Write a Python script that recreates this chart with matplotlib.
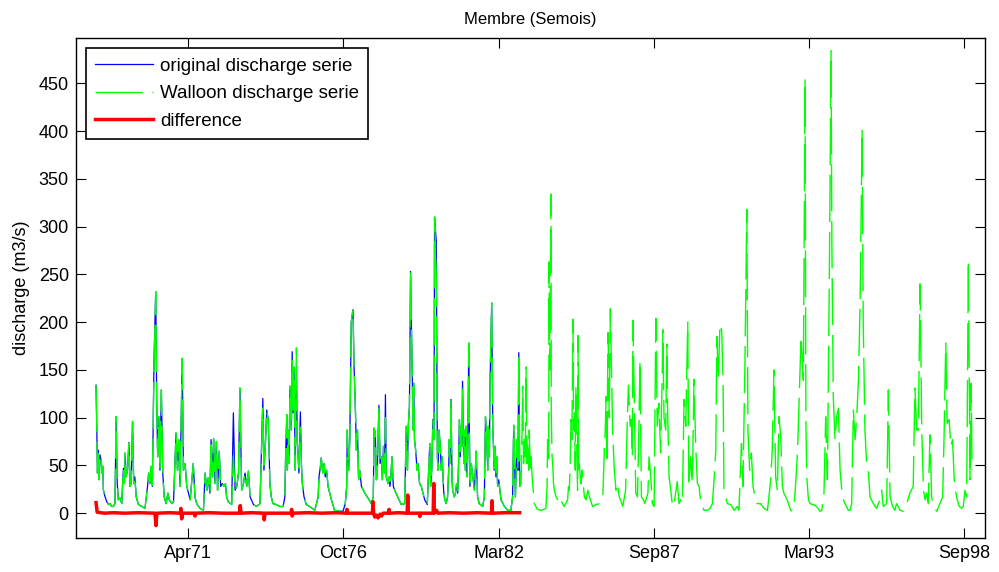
import matplotlib
matplotlib.use('Agg')
import matplotlib.pyplot as plt
import matplotlib.dates as mdates
from datetime import datetime, timedelta

plt.rcParams['font.family'] = ['Liberation Sans', 'DejaVu Sans']
plt.rcParams['lines.scale_dashes'] = False

# discharge (m3/s) as (decimal year, value)
original_pts = [
    (1968.00, 134), (1968.02, 101), (1968.05, 42), (1968.08, 66), (1968.11, 35), (1968.14, 61),
    (1968.18, 55), (1968.21, 42), (1968.24, 49), (1968.26, 24), (1968.32, 17), (1968.38, 12),
    (1968.44, 9), (1968.50, 10), (1968.55, 7), (1968.61, 7), (1968.67, 10), (1968.71, 101),
    (1968.75, 31), (1968.79, 14), (1968.85, 16), (1968.91, 10), (1968.94, 31), (1968.97, 47),
    (1969.00, 31), (1969.03, 63), (1969.06, 38), (1969.11, 45), (1969.16, 74), (1969.20, 28),
    (1969.24, 31), (1969.29, 96), (1969.33, 31), (1969.37, 38), (1969.42, 17), (1969.50, 9),
    (1969.62, 7), (1969.73, 5), (1969.82, 28), (1969.86, 42), (1969.91, 31), (1969.95, 49),
    (1969.99, 28), (1970.05, 160), (1970.11, 232), (1970.15, 105), (1970.18, 59), (1970.22, 101),
    (1970.26, 45), (1970.31, 129), (1970.36, 42), (1970.41, 17), (1970.48, 10), (1970.54, 21),
    (1970.59, 14), (1970.68, 10), (1970.74, 12), (1970.83, 84), (1970.88, 45), (1970.92, 77),
    (1970.97, 28), (1971.05, 162), (1971.09, 45), (1971.15, 52), (1971.21, 28), (1971.27, 21),
    (1971.33, 14), (1971.44, 52), (1971.50, 17), (1971.56, 10), (1971.68, 5), (1971.80, 3),
    (1971.86, 42), (1971.92, 24), (1971.97, 37), (1972.03, 21), (1972.07, 77), (1972.12, 38),
    (1972.16, 78), (1972.21, 31), (1972.26, 75), (1972.30, 24), (1972.36, 65), (1972.41, 28),
    (1972.47, 31), (1972.53, 28), (1972.58, 31), (1972.62, 17), (1972.68, 12), (1972.80, 9),
    (1972.86, 105), (1972.92, 24), (1972.98, 28), (1973.04, 42), (1973.09, 131), (1973.15, 24),
    (1973.21, 30), (1973.27, 42), (1973.33, 28), (1973.39, 44), (1973.45, 17), (1973.57, 9),
    (1973.68, 7), (1973.80, 10), (1973.90, 120), (1973.94, 45), (1973.99, 72), (1974.04, 108),
    (1974.09, 98), (1974.12, 70), (1974.15, 31), (1974.20, 17), (1974.26, 10), (1974.38, 9),
    (1974.50, 7), (1974.62, 7), (1974.68, 17), (1974.71, 63), (1974.75, 103), (1974.77, 45),
    (1974.79, 87), (1974.83, 52), (1974.86, 133), (1974.91, 87), (1974.94, 169), (1974.97, 105),
    (1975.01, 153), (1975.03, 87), (1975.05, 45), (1975.09, 150), (1975.12, 77), (1975.15, 59),
    (1975.18, 42), (1975.23, 106), (1975.27, 49), (1975.30, 31), (1975.36, 17), (1975.44, 9),
    (1975.56, 7), (1975.74, 3), (1975.86, 17), (1975.89, 38), (1975.94, 49), (1975.97, 58),
    (1976.02, 42), (1976.07, 52), (1976.11, 38), (1976.16, 45), (1976.21, 28), (1976.33, 14),
    (1976.44, 3), (1976.62, 2), (1976.74, 2), (1976.82, 10), (1976.87, 28), (1976.89, 87),
    (1976.94, 45), (1976.98, 77), (1977.03, 200), (1977.09, 213), (1977.13, 153), (1977.18, 105),
    (1977.21, 66), (1977.25, 87), (1977.29, 35), (1977.33, 45), (1977.39, 28), (1977.51, 21),
    (1977.62, 16), (1977.74, 10), (1977.81, 17), (1977.84, 89), (1977.88, 84), (1977.92, 35),
    (1977.95, 42), (1978.01, 113), (1978.05, 52), (1978.10, 59), (1978.13, 35), (1978.17, 70),
    (1978.21, 42), (1978.24, 124), (1978.27, 38), (1978.33, 31), (1978.37, 38), (1978.40, 28),
    (1978.43, 37), (1978.47, 59), (1978.52, 28), (1978.57, 24), (1978.69, 16), (1978.80, 9),
    (1978.92, 10), (1978.98, 91), (1979.02, 45), (1979.05, 91), (1979.09, 112), (1979.13, 253),
    (1979.18, 157), (1979.22, 87), (1979.24, 136), (1979.27, 77), (1979.31, 66), (1979.36, 45),
    (1979.39, 52), (1979.45, 31), (1979.51, 28), (1979.63, 14), (1979.72, 9), (1979.81, 73),
    (1979.84, 28), (1979.88, 45), (1979.92, 98), (1979.96, 77), (1979.98, 310), (1980.04, 285),
    (1980.08, 59), (1980.10, 45), (1980.14, 87), (1980.18, 70), (1980.22, 45), (1980.25, 59),
    (1980.30, 24), (1980.34, 14), (1980.39, 10), (1980.44, 17), (1980.48, 45), (1980.50, 77),
    (1980.54, 52), (1980.56, 119), (1980.60, 35), (1980.62, 24), (1980.68, 17), (1980.72, 21),
    (1980.76, 31), (1980.80, 21), (1980.83, 52), (1980.86, 98), (1980.89, 59), (1980.92, 91),
    (1980.95, 70), (1980.97, 138), (1981.01, 52), (1981.03, 87), (1981.07, 45), (1981.09, 91),
    (1981.13, 38), (1981.15, 59), (1981.19, 178), (1981.21, 87), (1981.23, 28), (1981.28, 52),
    (1981.33, 38), (1981.39, 24), (1981.45, 65), (1981.50, 17), (1981.56, 10), (1981.68, 7),
    (1981.74, 17), (1981.78, 101), (1981.82, 80), (1981.86, 45), (1981.88, 91), (1981.92, 59),
    (1981.94, 135), (1982.00, 220), (1982.04, 87), (1982.06, 73), (1982.09, 45), (1982.12, 70),
    (1982.15, 38), (1982.18, 59), (1982.21, 28), (1982.25, 35), (1982.33, 14), (1982.45, 7),
    (1982.57, 3), (1982.68, 3), (1982.74, 17), (1982.78, 92), (1982.84, 17), (1982.90, 77),
    (1982.93, 45), (1982.96, 168), (1982.99, 28),
]

walloon_pts = [
    (1968.00, 134), (1968.02, 101), (1968.05, 42), (1968.08, 66), (1968.11, 35), (1968.14, 59),
    (1968.18, 61), (1968.21, 42), (1968.24, 49), (1968.26, 24), (1968.32, 17), (1968.38, 12),
    (1968.44, 9), (1968.50, 10), (1968.55, 7), (1968.61, 7), (1968.67, 10), (1968.71, 101),
    (1968.75, 31), (1968.79, 14), (1968.85, 16), (1968.91, 10), (1968.94, 31), (1968.97, 47),
    (1969.00, 31), (1969.03, 63), (1969.06, 38), (1969.11, 45), (1969.16, 73), (1969.20, 28),
    (1969.24, 31), (1969.29, 96), (1969.33, 31), (1969.37, 38), (1969.42, 17), (1969.50, 9),
    (1969.62, 7), (1969.73, 5), (1969.82, 28), (1969.86, 42), (1969.91, 31), (1969.95, 49),
    (1969.99, 28), (1970.05, 150), (1970.11, 232), (1970.15, 105), (1970.18, 59), (1970.22, 101),
    (1970.26, 45), (1970.31, 129), (1970.36, 42), (1970.41, 17), (1970.48, 10), (1970.54, 21),
    (1970.59, 14), (1970.68, 10), (1970.74, 12), (1970.83, 84), (1970.88, 45), (1970.92, 77),
    (1970.97, 28), (1971.05, 162), (1971.09, 45), (1971.15, 52), (1971.21, 28), (1971.27, 21),
    (1971.33, 14), (1971.44, 52), (1971.50, 17), (1971.56, 10), (1971.68, 5), (1971.80, 3),
    (1971.86, 42), (1971.92, 24), (1971.97, 37), (1972.03, 21), (1972.07, 77), (1972.12, 38),
    (1972.16, 78), (1972.21, 31), (1972.26, 75), (1972.30, 24), (1972.36, 65), (1972.41, 28),
    (1972.47, 31), (1972.53, 28), (1972.58, 31), (1972.62, 17), (1972.68, 12), (1972.80, 9),
    (1972.86, 60), (1972.92, 24), (1972.98, 28), (1973.04, 42), (1973.09, 131), (1973.15, 24),
    (1973.21, 30), (1973.27, 42), (1973.33, 28), (1973.39, 44), (1973.45, 17), (1973.57, 9),
    (1973.68, 7), (1973.80, 10), (1973.90, 110), (1973.94, 45), (1973.99, 72), (1974.04, 108),
    (1974.09, 98), (1974.12, 70), (1974.15, 31), (1974.20, 17), (1974.26, 10), (1974.38, 9),
    (1974.50, 7), (1974.62, 7), (1974.68, 17), (1974.71, 63), (1974.75, 103), (1974.77, 45),
    (1974.79, 87), (1974.83, 52), (1974.86, 133), (1974.91, 87), (1974.94, 160), (1974.97, 105),
    (1975.01, 153), (1975.03, 87), (1975.05, 45), (1975.09, 173), (1975.12, 77), (1975.15, 59),
    (1975.18, 42), (1975.23, 90), (1975.27, 49), (1975.30, 31), (1975.36, 17), (1975.44, 9),
    (1975.56, 7), (1975.74, 3), (1975.86, 17), (1975.89, 38), (1975.94, 49), (1975.97, 58),
    (1976.02, 42), (1976.07, 52), (1976.11, 38), (1976.16, 45), (1976.21, 28), (1976.33, 14),
    (1976.44, 3), (1976.62, 2), (1976.74, 2), (1976.82, 10), (1976.87, 28), (1976.89, 87),
    (1976.94, 45), (1976.98, 77), (1977.03, 200), (1977.09, 213), (1977.13, 153), (1977.18, 105),
    (1977.21, 66), (1977.25, 87), (1977.29, 35), (1977.33, 45), (1977.39, 28), (1977.51, 21),
    (1977.62, 16), (1977.74, 10), (1977.81, 17), (1977.84, 89), (1977.88, 84), (1977.92, 35),
    (1977.95, 42), (1978.01, 113), (1978.05, 52), (1978.10, 59), (1978.13, 35), (1978.17, 70),
    (1978.21, 42), (1978.24, 100), (1978.27, 38), (1978.33, 31), (1978.37, 38), (1978.40, 28),
    (1978.43, 37), (1978.47, 59), (1978.52, 28), (1978.57, 24), (1978.69, 16), (1978.80, 9),
    (1978.92, 10), (1978.98, 91), (1979.02, 45), (1979.05, 91), (1979.09, 112), (1979.13, 253),
    (1979.18, 157), (1979.22, 87), (1979.24, 136), (1979.27, 77), (1979.31, 66), (1979.36, 45),
    (1979.39, 52), (1979.45, 31), (1979.51, 28), (1979.63, 14), (1979.72, 9), (1979.81, 73),
    (1979.84, 28), (1979.88, 45), (1979.92, 98), (1979.96, 77), (1979.98, 310), (1980.04, 250),
    (1980.08, 59), (1980.10, 45), (1980.14, 87), (1980.18, 70), (1980.22, 45), (1980.25, 59),
    (1980.30, 24), (1980.34, 14), (1980.39, 10), (1980.44, 17), (1980.48, 45), (1980.50, 77),
    (1980.54, 52), (1980.56, 119), (1980.60, 35), (1980.62, 24), (1980.68, 17), (1980.72, 21),
    (1980.76, 31), (1980.80, 21), (1980.83, 52), (1980.86, 98), (1980.89, 59), (1980.92, 91),
    (1980.95, 70), (1980.97, 130), (1981.01, 52), (1981.03, 87), (1981.07, 45), (1981.09, 91),
    (1981.13, 38), (1981.15, 59), (1981.19, 178), (1981.21, 87), (1981.23, 28), (1981.28, 52),
    (1981.33, 38), (1981.39, 24), (1981.45, 65), (1981.50, 17), (1981.56, 10), (1981.68, 7),
    (1981.74, 17), (1981.78, 101), (1981.82, 80), (1981.86, 45), (1981.88, 91), (1981.92, 59),
    (1981.94, 140), (1982.00, 220), (1982.04, 87), (1982.06, 73), (1982.09, 45), (1982.12, 70),
    (1982.15, 38), (1982.18, 59), (1982.21, 28), (1982.25, 35), (1982.33, 14), (1982.45, 7),
    (1982.57, 3), (1982.68, 3), (1982.74, 17), (1982.78, 92), (1982.84, 17), (1982.90, 77),
    (1982.93, 45), (1982.96, 168), (1983.00, 28), (1983.04, 31), (1983.07, 77), (1983.10, 133),
    (1983.13, 52), (1983.16, 80), (1983.19, 59), (1983.22, 153), (1983.25, 52), (1983.27, 77),
    (1983.31, 45), (1983.33, 87), (1983.37, 42), (1983.39, 59), (1983.45, 31), (1983.51, 10),
    (1983.62, 4), (1983.75, 3), (1983.92, 5), (1983.96, 28), (1983.98, 77), (1984.02, 52),
    (1984.03, 263), (1984.06, 150), (1984.10, 334), (1984.11, 105), (1984.14, 59), (1984.16, 52),
    (1984.19, 31), (1984.22, 24), (1984.28, 17), (1984.34, 14), (1984.39, 10), (1984.45, 14),
    (1984.51, 10), (1984.57, 7), (1984.69, 14), (1984.72, 28), (1984.75, 24), (1984.78, 52),
    (1984.81, 98), (1984.84, 77), (1984.88, 203), (1984.90, 87), (1984.93, 105), (1984.96, 45),
    (1984.98, 133), (1985.02, 52), (1985.04, 24), (1985.06, 186), (1985.08, 42), (1985.10, 52),
    (1985.14, 35), (1985.16, 31), (1985.20, 45), (1985.22, 38), (1985.28, 17), (1985.34, 14),
    (1985.40, 24), (1985.46, 17), (1985.57, 7), (1985.69, 9), (1985.81, 10), (1985.93, 14),
    (1985.99, 70), (1986.02, 87), (1986.05, 122), (1986.08, 52), (1986.10, 129), (1986.12, 189),
    (1986.16, 100), (1986.20, 214), (1986.26, 122), (1986.28, 87), (1986.32, 59), (1986.34, 45),
    (1986.38, 31), (1986.40, 24), (1986.46, 31), (1986.49, 21), (1986.52, 17), (1986.64, 7),
    (1986.74, 24), (1986.80, 98), (1986.84, 134), (1986.90, 91), (1986.94, 98), (1986.98, 59),
    (1987.00, 202), (1987.04, 133), (1987.10, 21), (1987.16, 17), (1987.21, 87), (1987.25, 160),
    (1987.30, 17), (1987.37, 14), (1987.42, 10), (1987.49, 17), (1987.53, 21), (1987.57, 59),
    (1987.63, 38), (1987.69, 10), (1987.75, 7), (1987.81, 204), (1987.86, 91), (1987.92, 115),
    (1987.98, 63), (1988.04, 150), (1988.06, 192), (1988.10, 100), (1988.16, 87), (1988.20, 177),
    (1988.22, 119), (1988.28, 38), (1988.34, 24), (1988.39, 10), (1988.45, 7), (1988.51, 21),
    (1988.57, 33), (1988.63, 10), (1988.69, 14), (1988.75, 10), (1988.81, 119), (1988.87, 91),
    (1988.94, 200), (1988.98, 28), (1989.04, 59), (1989.10, 31), (1989.16, 140), (1989.22, 70),
    (1989.28, 31), (1989.34, 28), (1989.40, 10), (1989.46, 9), (1989.51, 3), (1989.63, 3),
    (1989.73, 5), (1989.81, 10), (1989.87, 35), (1989.93, 66), (1989.97, 185), (1990.02, 140),
    (1990.08, 198), (1990.14, 191), (1990.19, 138), (1990.22, 21), (1990.28, 17), (1990.34, 10),
    (1990.46, 9), (1990.58, 3), (1990.69, 7), (1990.75, 3), (1990.84, 73), (1990.89, 28),
    (1990.96, 150), (1991.03, 318), (1991.07, 87), (1991.13, 45), (1991.19, 63), (1991.25, 28),
    (1991.34, 14), (1991.40, 10), (1991.52, 10), (1991.64, 5), (1991.76, 3), (1991.87, 33),
    (1991.93, 66), (1991.99, 150), (1992.05, 38), (1992.11, 24), (1992.17, 101), (1992.23, 80),
    (1992.29, 28), (1992.34, 21), (1992.46, 14), (1992.58, 3), (1992.64, 2), (1992.72, 14),
    (1992.79, 45), (1992.84, 77), (1992.90, 136), (1992.95, 185), (1993.03, 139), (1993.09, 455),
    (1993.12, 94), (1993.15, 38), (1993.21, 14), (1993.27, 10), (1993.38, 9), (1993.50, 7),
    (1993.62, 2), (1993.68, 3), (1993.76, 21), (1993.82, 101), (1993.88, 35), (1993.95, 250),
    (1994.01, 484), (1994.04, 280), (1994.09, 122), (1994.15, 77), (1994.21, 101), (1994.27, 110),
    (1994.33, 45), (1994.39, 24), (1994.45, 14), (1994.50, 10), (1994.56, 7), (1994.62, 3),
    (1994.68, 3), (1994.74, 10), (1994.80, 108), (1994.86, 77), (1994.92, 101), (1994.98, 140),
    (1995.04, 220), (1995.11, 402), (1995.15, 200), (1995.21, 87), (1995.27, 52), (1995.33, 45),
    (1995.39, 17), (1995.51, 10), (1995.62, 5), (1995.74, 14), (1995.80, 24), (1995.86, 7),
    (1995.98, 10), (1996.04, 129), (1996.10, 17), (1996.19, 7), (1996.27, 3), (1996.33, 10),
    (1996.39, 7), (1996.45, 3), (1996.57, 2), (1996.69, 10), (1996.80, 21), (1996.92, 28),
    (1996.98, 131), (1997.04, 87), (1997.10, 87), (1997.16, 240), (1997.22, 87), (1997.28, 24),
    (1997.34, 14), (1997.39, 21), (1997.45, 10), (1997.51, 82), (1997.57, 17), (1997.63, 7),
    (1997.75, 2), (1997.86, 10), (1997.96, 17), (1998.01, 80), (1998.07, 178), (1998.12, 94),
    (1998.19, 98), (1998.25, 70), (1998.31, 77), (1998.37, 35), (1998.45, 17), (1998.55, 7),
    (1998.63, 5), (1998.69, 7), (1998.75, 24), (1998.81, 17), (1998.87, 265), (1998.93, 35),
    (1998.97, 136), (1999.00, 45),
]

difference_pts = [
    (1968.00, 11), (1968.04, 1), (1968.30, 0), (1968.60, 0.5), (1969.00, 0), (1969.50, 0.5),
    (1970.08, 0), (1970.12, -13), (1970.15, 0), (1970.60, 0.5), (1970.98, 0), (1971.00, 5),
    (1971.03, -6), (1971.06, 0), (1971.48, 0), (1971.50, -3), (1971.53, 0), (1972.00, 0.5),
    (1972.50, 0), (1973.07, 0), (1973.10, 8), (1973.13, 0), (1973.50, 0.5), (1973.93, 0),
    (1973.95, -7), (1973.98, 0), (1974.50, 0), (1974.90, 0), (1974.92, 4), (1974.94, -3),
    (1974.97, 0), (1975.50, 0.5), (1976.00, 0), (1976.50, 0.5), (1976.86, 0), (1976.88, 4),
    (1976.90, 0), (1977.50, 0), (1977.78, 0), (1977.80, 12), (1977.82, 0), (1977.86, -4),
    (1977.92, -2), (1977.98, -5), (1978.05, -1), (1978.10, -3), (1978.16, 0), (1978.35, 0),
    (1978.37, 4), (1978.39, 0), (1978.70, 0.5), (1979.01, 0), (1979.03, 19), (1979.05, 0),
    (1979.44, 0), (1979.46, -3.5), (1979.48, 0), (1979.93, 0), (1979.95, 31), (1979.97, 0),
    (1980.05, 3), (1980.10, 0), (1980.50, 0.5), (1981.00, 0), (1981.50, 0.5), (1981.99, 0),
    (1982.01, 13), (1982.03, 0), (1982.50, 0.5), (1982.99, 0.5),
]

tick_dates = ['1971-04-08', '1976-10-03', '1982-03-31', '1987-09-26', '1993-03-23', '1998-09-18']
y_ticks = [0, 50, 100, 150, 200, 250, 300, 350, 400, 450]


def to_dates(years):
    out = []
    for y in years:
        y0 = int(y)
        out.append(datetime(y0, 1, 1) + timedelta(days=(y - y0) * 365.25))
    return out


fig = plt.figure(figsize=(9.99, 5.72), dpi=100)
ax = fig.add_axes([0.0758, 0.0594, 0.9102, 0.8736])

t, q = zip(*original_pts)
ax.plot(to_dates(t), q, color='#0000ff', lw=0.9, label='original discharge serie')
t, q = zip(*walloon_pts)
ax.plot(to_dates(t), q, color='#00ff00', lw=1.0, dashes=(34, 7), label='Walloon discharge serie')
t, q = zip(*difference_pts)
ax.plot(to_dates(t), q, color='#ff0000', lw=2.5, label='difference')

ax.set_xlim(to_dates([1967.28, 1999.46]))
ax.set_ylim(-26, 497)
ax.set_xticks([datetime.strptime(d, '%Y-%m-%d') for d in tick_dates])
ax.xaxis.set_major_formatter(mdates.DateFormatter('%b%y'))
ax.set_yticks(y_ticks)
ax.tick_params(direction='in', length=7, width=0.8, top=True, right=True, labelsize=13, pad=5)
for s in ax.spines.values():
    s.set_linewidth(1.0)

ax.set_title('Membre (Semois)', fontsize=12, pad=10)
ax.set_ylabel('discharge (m3/s)', fontsize=13, labelpad=6)

leg = ax.legend(loc='upper left', bbox_to_anchor=(0.0113, 0.980), fontsize=13.5,
                handlelength=3.1, handletextpad=0.35, labelspacing=0.55, borderpad=0.5,
                borderaxespad=0, fancybox=False, framealpha=1, edgecolor='black')
leg.get_frame().set_linewidth(1.2)

fig.savefig('out.png', dpi=100)
